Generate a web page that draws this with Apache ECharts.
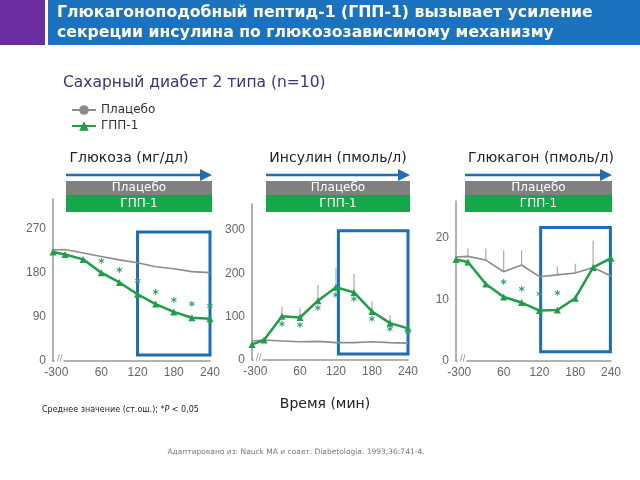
<!DOCTYPE html>
<html><head><meta charset="utf-8">
<script src="https://cdn.jsdelivr.net/npm/echarts@6/dist/echarts.min.js"></script>
<style>html,body{margin:0;padding:0;background:#fff}#c{width:640px;height:480px}</style>
</head><body><div id="c"></div><script>
// ---- data ----
const times = [-30, 0, 30, 60, 90, 120, 150, 180, 210, 240];
const xTickLabels = [-30, 0, 60, 120, 180, 240];
const glucoseTicks = [0, 90, 180, 270];
const insulinTicks = [0, 100, 200, 300];
const glucagonTicks = [0, 10, 20];
const glucosePlacebo = [226, 227, 220, 213, 206, 200, 192, 188, 182, 180];
const glucoseGLP1 = [222, 217, 207, 180, 160, 136, 116, 100, 88, 86];
const glucoseStars = [null, null, null, 197, 179, 158, 134, 118, 110, 106];
const insulinPlacebo = [44, 46, 44, 42, 43, 40, 40, 42, 40, 39];
const insulinGLP1 = [36, 46, 101, 98, 137, 168, 156, 112, 85, 73];
const insulinGLP1ErrTop = [null, null, 123, 120, 173, 212, 199, 135, 104, null];
const insulinStars = [null, null, 77, 73, 114, 144, 133, 88, 65, 59];
const glucagonPlacebo = [16.9, 17.0, 16.4, 14.5, 15.6, 13.7, 14.0, 14.3, 15.2, 13.8];
const glucagonPlaceboErrTop = [null, 18.3, 18.3, 18.0, 18.0, null, 15.4, 15.8, 19.6, null];
const glucagonGLP1 = [16.5, 16.1, 12.5, 10.4, 9.5, 8.2, 8.3, 10.2, 15.2, 16.7];
const glucagonStars = [null, null, null, 12.4, 11.3, 10.4, 10.6, null, null, null];
const boxGlucose = [[120, 12], [240, 263]];
const boxInsulin = [[124, 14], [240, 298]];
const boxGlucagon = [[122, 1.5], [239, 21.7]];

const FONT = '"DejaVu Sans", sans-serif';
const NUMFONT = '"Liberation Sans", sans-serif';
const GREEN = '#1f9d48';
const GREY = '#8c8c8c';
const BLUE = '#1f6db3';

const panels = [
  {grid:{left:53, top:199, width:157, height:162}, max:330, ticks:glucoseTicks,
   placebo:glucosePlacebo, glp:glucoseGLP1, stars:glucoseStars, err:null, box:boxGlucose},
  {grid:{left:252, top:204, width:156, height:156}, max:360, ticks:insulinTicks,
   placebo:insulinPlacebo, glp:insulinGLP1, stars:insulinStars, err:{base:insulinGLP1, top:insulinGLP1ErrTop}, box:boxInsulin},
  {grid:{left:456, top:201, width:155, height:160}, max:26, ticks:glucagonTicks,
   placebo:glucagonPlacebo, glp:glucagonGLP1, stars:glucagonStars, err:{base:glucagonPlacebo, top:glucagonPlaceboErrTop}, box:boxGlucagon}
];

const grids = [], xAxes = [], yAxes = [], series = [];
panels.forEach((p, i) => {
  grids.push(p.grid);
  xAxes.push({type:'value', gridIndex:i, min:-30, max:240,
    breaks:[{start:-28, end:-2, gap:16}], breakArea:{show:false}, breakLabelLayout:{moveOverlap:false},
    axisLine:{show:true, onZero:false, lineStyle:{color:'#999', width:1.5}}, axisTick:{show:false}, splitLine:{show:false},
    axisLabel:{customValues:xTickLabels, showMinLabel:true, hideOverlap:false, color:'#666', fontSize:12, fontFamily:NUMFONT, margin:6}});
  yAxes.push({type:'value', gridIndex:i, min:0, max:p.max,
    axisLine:{show:true, onZero:false, lineStyle:{color:'#999', width:1.5}}, axisTick:{show:false}, splitLine:{show:false},
    axisLabel:{customValues:p.ticks, color:'#666', fontSize:12, fontFamily:NUMFONT, margin:7}});
  const pair = arr => times.map((t, k) => [t, arr[k]]);
  if (p.err) {
    series.push({type:'custom', xAxisIndex:i, yAxisIndex:i, silent:true, z:1,
      data: times.map((t, k) => p.err.top[k] == null ? null : [t, p.err.base[k], p.err.top[k]]).filter(d => d),
      renderItem:(params, api) => {
        const a = api.coord([api.value(0), api.value(1)]);
        const b = api.coord([api.value(0), api.value(2)]);
        return {type:'line', shape:{x1:a[0], y1:a[1], x2:b[0], y2:b[1]}, style:{stroke:'#aaa', lineWidth:1.2}};
      }});
  }
  series.push({type:'line', name:'Плацебо', xAxisIndex:i, yAxisIndex:i, data:pair(p.placebo),
    symbol:'circle', symbolSize:8, showSymbol:false, z:2,
    lineStyle:{color:GREY, width:1.6}, itemStyle:{color:GREY}});
  series.push({type:'line', name:'ГПП-1', xAxisIndex:i, yAxisIndex:i, data:pair(p.glp),
    symbol:'triangle', symbolSize:7, z:3,
    lineStyle:{color:GREEN, width:2.5}, itemStyle:{color:GREEN},
    markArea:{silent:true, itemStyle:{color:'rgba(0,0,0,0)', borderColor:BLUE, borderWidth:3},
      data:[[{xAxis:p.box[0][0], yAxis:p.box[0][1]}, {xAxis:p.box[1][0], yAxis:p.box[1][1]}]]}});
  series.push({type:'custom', xAxisIndex:i, yAxisIndex:i, silent:true, z:4,
    data: times.map((t, k) => p.stars[k] == null ? null : [t, p.stars[k]]).filter(d => d),
    renderItem:(params, api) => {
      const c = api.coord([api.value(0), api.value(1)]);
      return {type:'text', x:c[0], y:c[1], style:{text:'*', fill:'#2e9e6e', font:'bold 12px ' + FONT, align:'center', verticalAlign:'middle'}};
    }});
});

const headerBars = [[66, 212], [266, 410], [465, 612]];
const graphics = [
  {type:'rect', shape:{x:0, y:0, width:45, height:45}, style:{fill:'#6a2ea0'}},
  {type:'rect', shape:{x:48, y:0, width:592, height:45}, style:{fill:'#1b73bf'}},
  {type:'text', x:57, y:13, style:{text:'Глюкагоноподобный пептид-1 (ГПП-1) вызывает усиление', fill:'#fff', font:'bold 15.7px ' + FONT, textVerticalAlign:'middle'}},
  {type:'text', x:57, y:33, style:{text:'секреции инсулина по глюкозозависимому механизму', fill:'#fff', font:'bold 15.7px ' + FONT, textVerticalAlign:'middle'}},
  {type:'text', x:63, y:83, style:{text:'Сахарный диабет 2 типа (n=10)', fill:'#3a3480', font:'15.5px ' + FONT, textVerticalAlign:'middle'}},
  {type:'text', x:129, y:158, style:{text:'Глюкоза (мг/дл)', fill:'#222', font:'14px ' + FONT, textAlign:'center', textVerticalAlign:'middle'}},
  {type:'text', x:338, y:158, style:{text:'Инсулин (пмоль/л)', fill:'#222', font:'14px ' + FONT, textAlign:'center', textVerticalAlign:'middle'}},
  {type:'text', x:541, y:158, style:{text:'Глюкагон (пмоль/л)', fill:'#222', font:'14px ' + FONT, textAlign:'center', textVerticalAlign:'middle'}},
  {type:'text', x:325, y:404, style:{text:'Время (мин)', fill:'#222', font:'14px ' + FONT, textAlign:'center', textVerticalAlign:'middle'}},
  {type:'text', x:42, y:410, style:{text:'{a|Среднее значение (ст.ош.); *}{b|P}{a| < 0,05}', rich:{a:{font:'8px ' + FONT, fill:'#222'}, b:{font:'italic 8px ' + FONT, fill:'#222'}}, textVerticalAlign:'middle'}},
  {type:'text', x:296, y:452, style:{text:'Адаптировано из: Nauck MA и соавт. Diabetologia. 1993;36:741-4.', fill:'#777', font:'7.5px ' + FONT, textAlign:'center', textVerticalAlign:'middle'}}
];
headerBars.forEach(([x0, x1], i) => {
  const w = x1 - x0, cx = (x0 + x1) / 2;
  graphics.push({type:'line', shape:{x1:x0, y1:175, x2:x1 - 10, y2:175}, style:{stroke:BLUE, lineWidth:2.5}});
  graphics.push({type:'polygon', shape:{points:[[x1 - 12, 169], [x1, 175], [x1 - 12, 181]]}, style:{fill:BLUE}});
  graphics.push({type:'rect', shape:{x:x0, y:181, width:w, height:14}, style:{fill:'#808080'}});
  graphics.push({type:'rect', shape:{x:x0, y:195, width:w, height:17}, style:{fill:'#14a84a'}});
  graphics.push({type:'text', x:cx, y:188, style:{text:'Плацебо', fill:'#fff', font:'12px ' + FONT, textAlign:'center', textVerticalAlign:'middle'}});
  graphics.push({type:'text', x:cx, y:204, style:{text:'ГПП-1', fill:'#fff', font:'12px ' + FONT, textAlign:'center', textVerticalAlign:'middle'}});
  const gx = panels[i].grid.left + 4, gy = panels[i].grid.top + panels[i].grid.height - 2;
  graphics.push({type:'text', x:gx, y:gy, style:{text:'//', fill:'#888', font:'8px ' + FONT, textVerticalAlign:'middle'}});
});

const chart = echarts.init(document.getElementById('c'), null, {renderer:'canvas'});
chart.setOption({
  animation:false,
  backgroundColor:'#fff',
  textStyle:{fontFamily:FONT},
  legend:{data:['Плацебо', 'ГПП-1'], orient:'vertical', left:66, top:99, itemWidth:24, itemHeight:12, itemGap:4,
    textStyle:{fontSize:12, color:'#333', fontFamily:FONT}},
  grid:grids, xAxis:xAxes, yAxis:yAxes, series:series, graphic:graphics
});
</script></body></html>
